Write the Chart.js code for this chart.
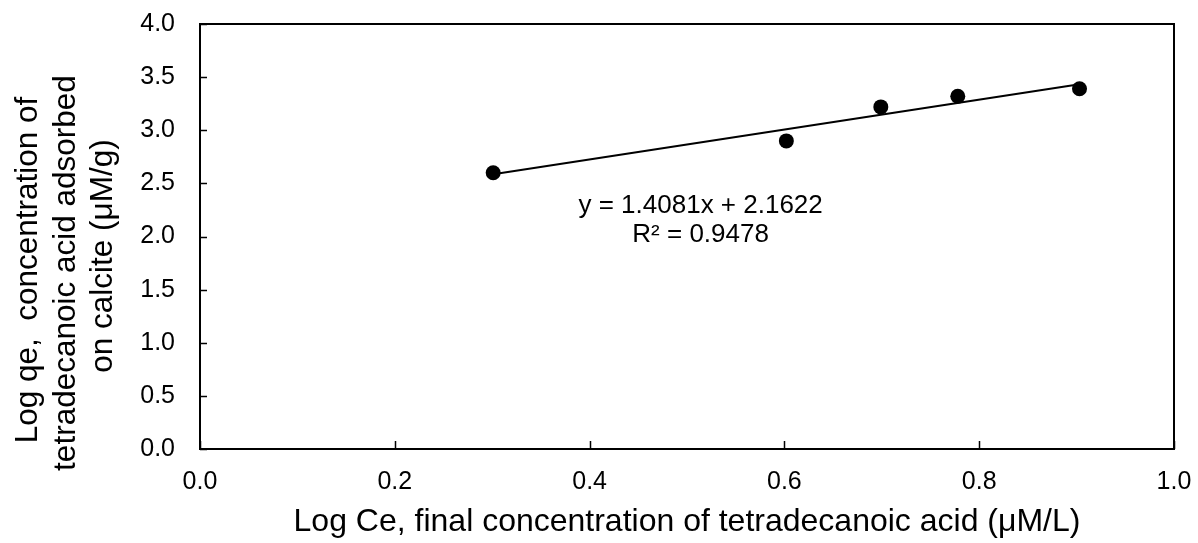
<!DOCTYPE html>
<html><head><meta charset="utf-8">
<script src="https://cdn.jsdelivr.net/npm/chart.js@4.4.1/dist/chart.umd.min.js"></script>
<style>html,body{margin:0;padding:0;background:#fff;}#wrap{width:1198px;height:543px;}</style>
</head><body><div id="wrap"><canvas id="c" width="1198" height="543"></canvas></div>
<script>
// ---- data ----
const logCe = [0.301, 0.602, 0.699, 0.778, 0.903];
const logQe = [2.60, 2.90, 3.22, 3.32, 3.39];
const trendX = [0.301, 0.903];
const trendY = [2.586, 3.434];
const xTickValues = [0.0, 0.2, 0.4, 0.6, 0.8, 1.0];
const yTickValues = [0.0, 0.5, 1.0, 1.5, 2.0, 2.5, 3.0, 3.5, 4.0];
const equationLines = ['y = 1.4081x + 2.1622', 'R\u00B2 = 0.9478'];
const equationAnchor = [0.514, 2.22];
const xTitle = 'Log Ce, final concentration of tetradecanoic acid (\u03BCM/L)';
const yTitleLines = ['Log qe,  concentration of', 'tetradecanoic acid adsorbed', 'on calcite (\u03BCM/g)'];

const FONT = '"Liberation Sans", Arial, sans-serif';

const framePlugin = {
  id: 'frame',
  afterDraw(chart) {
    const {ctx, chartArea: a, scales: {x, y}} = chart;
    ctx.save();
    ctx.strokeStyle = '#000';
    // inward tick marks
    ctx.lineWidth = 1.5;
    ctx.beginPath();
    xTickValues.forEach(v => {
      const px = Math.round(x.getPixelForValue(v)) + 0.5;
      ctx.moveTo(px, a.bottom); ctx.lineTo(px, a.bottom - 8);
    });
    yTickValues.forEach(v => {
      const py = Math.round(y.getPixelForValue(v)) + 0.5;
      ctx.moveTo(a.left, py); ctx.lineTo(a.left + 7, py);
    });
    ctx.stroke();
    // plot border
    ctx.lineWidth = 2;
    ctx.strokeRect(a.left, a.top, a.right - a.left, a.bottom - a.top);
    // equation label
    ctx.fillStyle = '#000';
    ctx.font = '26px ' + FONT;
    ctx.textAlign = 'center';
    ctx.textBaseline = 'alphabetic';
    const ex = x.getPixelForValue(equationAnchor[0]);
    const ey = y.getPixelForValue(equationAnchor[1]);
    equationLines.forEach((t, i) => ctx.fillText(t, ex, ey + i * 29));
    // y axis title (three rotated lines)
    ctx.font = '31.5px ' + FONT;
    const baseX = [37, 75, 112];
    const centerY = [270, 273, 256];
    yTitleLines.forEach((t, i) => {
      ctx.save();
      ctx.translate(baseX[i], centerY[i]);
      ctx.rotate(-Math.PI / 2);
      ctx.fillText(t, 0, 0);
      ctx.restore();
    });
    ctx.restore();
  }
};

function noPad(s) { s.paddingTop = 0; s.paddingBottom = 0; s.paddingLeft = 0; s.paddingRight = 0; }

new Chart(document.getElementById('c'), {
  type: 'scatter',
  data: {
    datasets: [
      {
        type: 'line',
        data: trendX.map((v, i) => ({x: v, y: trendY[i]})),
        borderColor: '#000', borderWidth: 2, pointRadius: 0, fill: false
      },
      {
        data: logCe.map((v, i) => ({x: v, y: logQe[i]})),
        backgroundColor: '#000', borderColor: '#000', borderWidth: 0,
        pointRadius: 7.5, pointHoverRadius: 7.5
      }
    ]
  },
  options: {
    responsive: false,
    animation: false,
    devicePixelRatio: 1,
    layout: {padding: {top: 24, right: 24, left: 0, bottom: 0}},
    plugins: {legend: {display: false}, tooltip: {enabled: false}},
    scales: {
      x: {
        type: 'linear', min: 0, max: 1,
        afterBuildTicks: s => { s.ticks = xTickValues.map(v => ({value: v})); },
        afterFit: s => { s.height = 94; noPad(s); },
        grid: {display: false, drawTicks: false},
        border: {display: false},
        ticks: {padding: 18, color: '#000', font: {family: FONT, size: 25}, callback: v => Number(v).toFixed(1), maxRotation: 0, autoSkip: false},
        title: {display: true, text: xTitle, color: '#000', font: {family: FONT, size: 32}, padding: {top: 0, bottom: 2}}
      },
      y: {
        type: 'linear', min: 0, max: 4,
        afterBuildTicks: s => { s.ticks = yTickValues.map(v => ({value: v})); },
        afterFit: s => { s.width = 200; noPad(s); },
        grid: {display: false, drawTicks: false},
        border: {display: false},
        ticks: {padding: 25, color: '#000', font: {family: FONT, size: 25}, callback: v => Number(v).toFixed(1), autoSkip: false},
        title: {display: false}
      }
    }
  },
  plugins: [framePlugin]
});
</script>
</body></html>
